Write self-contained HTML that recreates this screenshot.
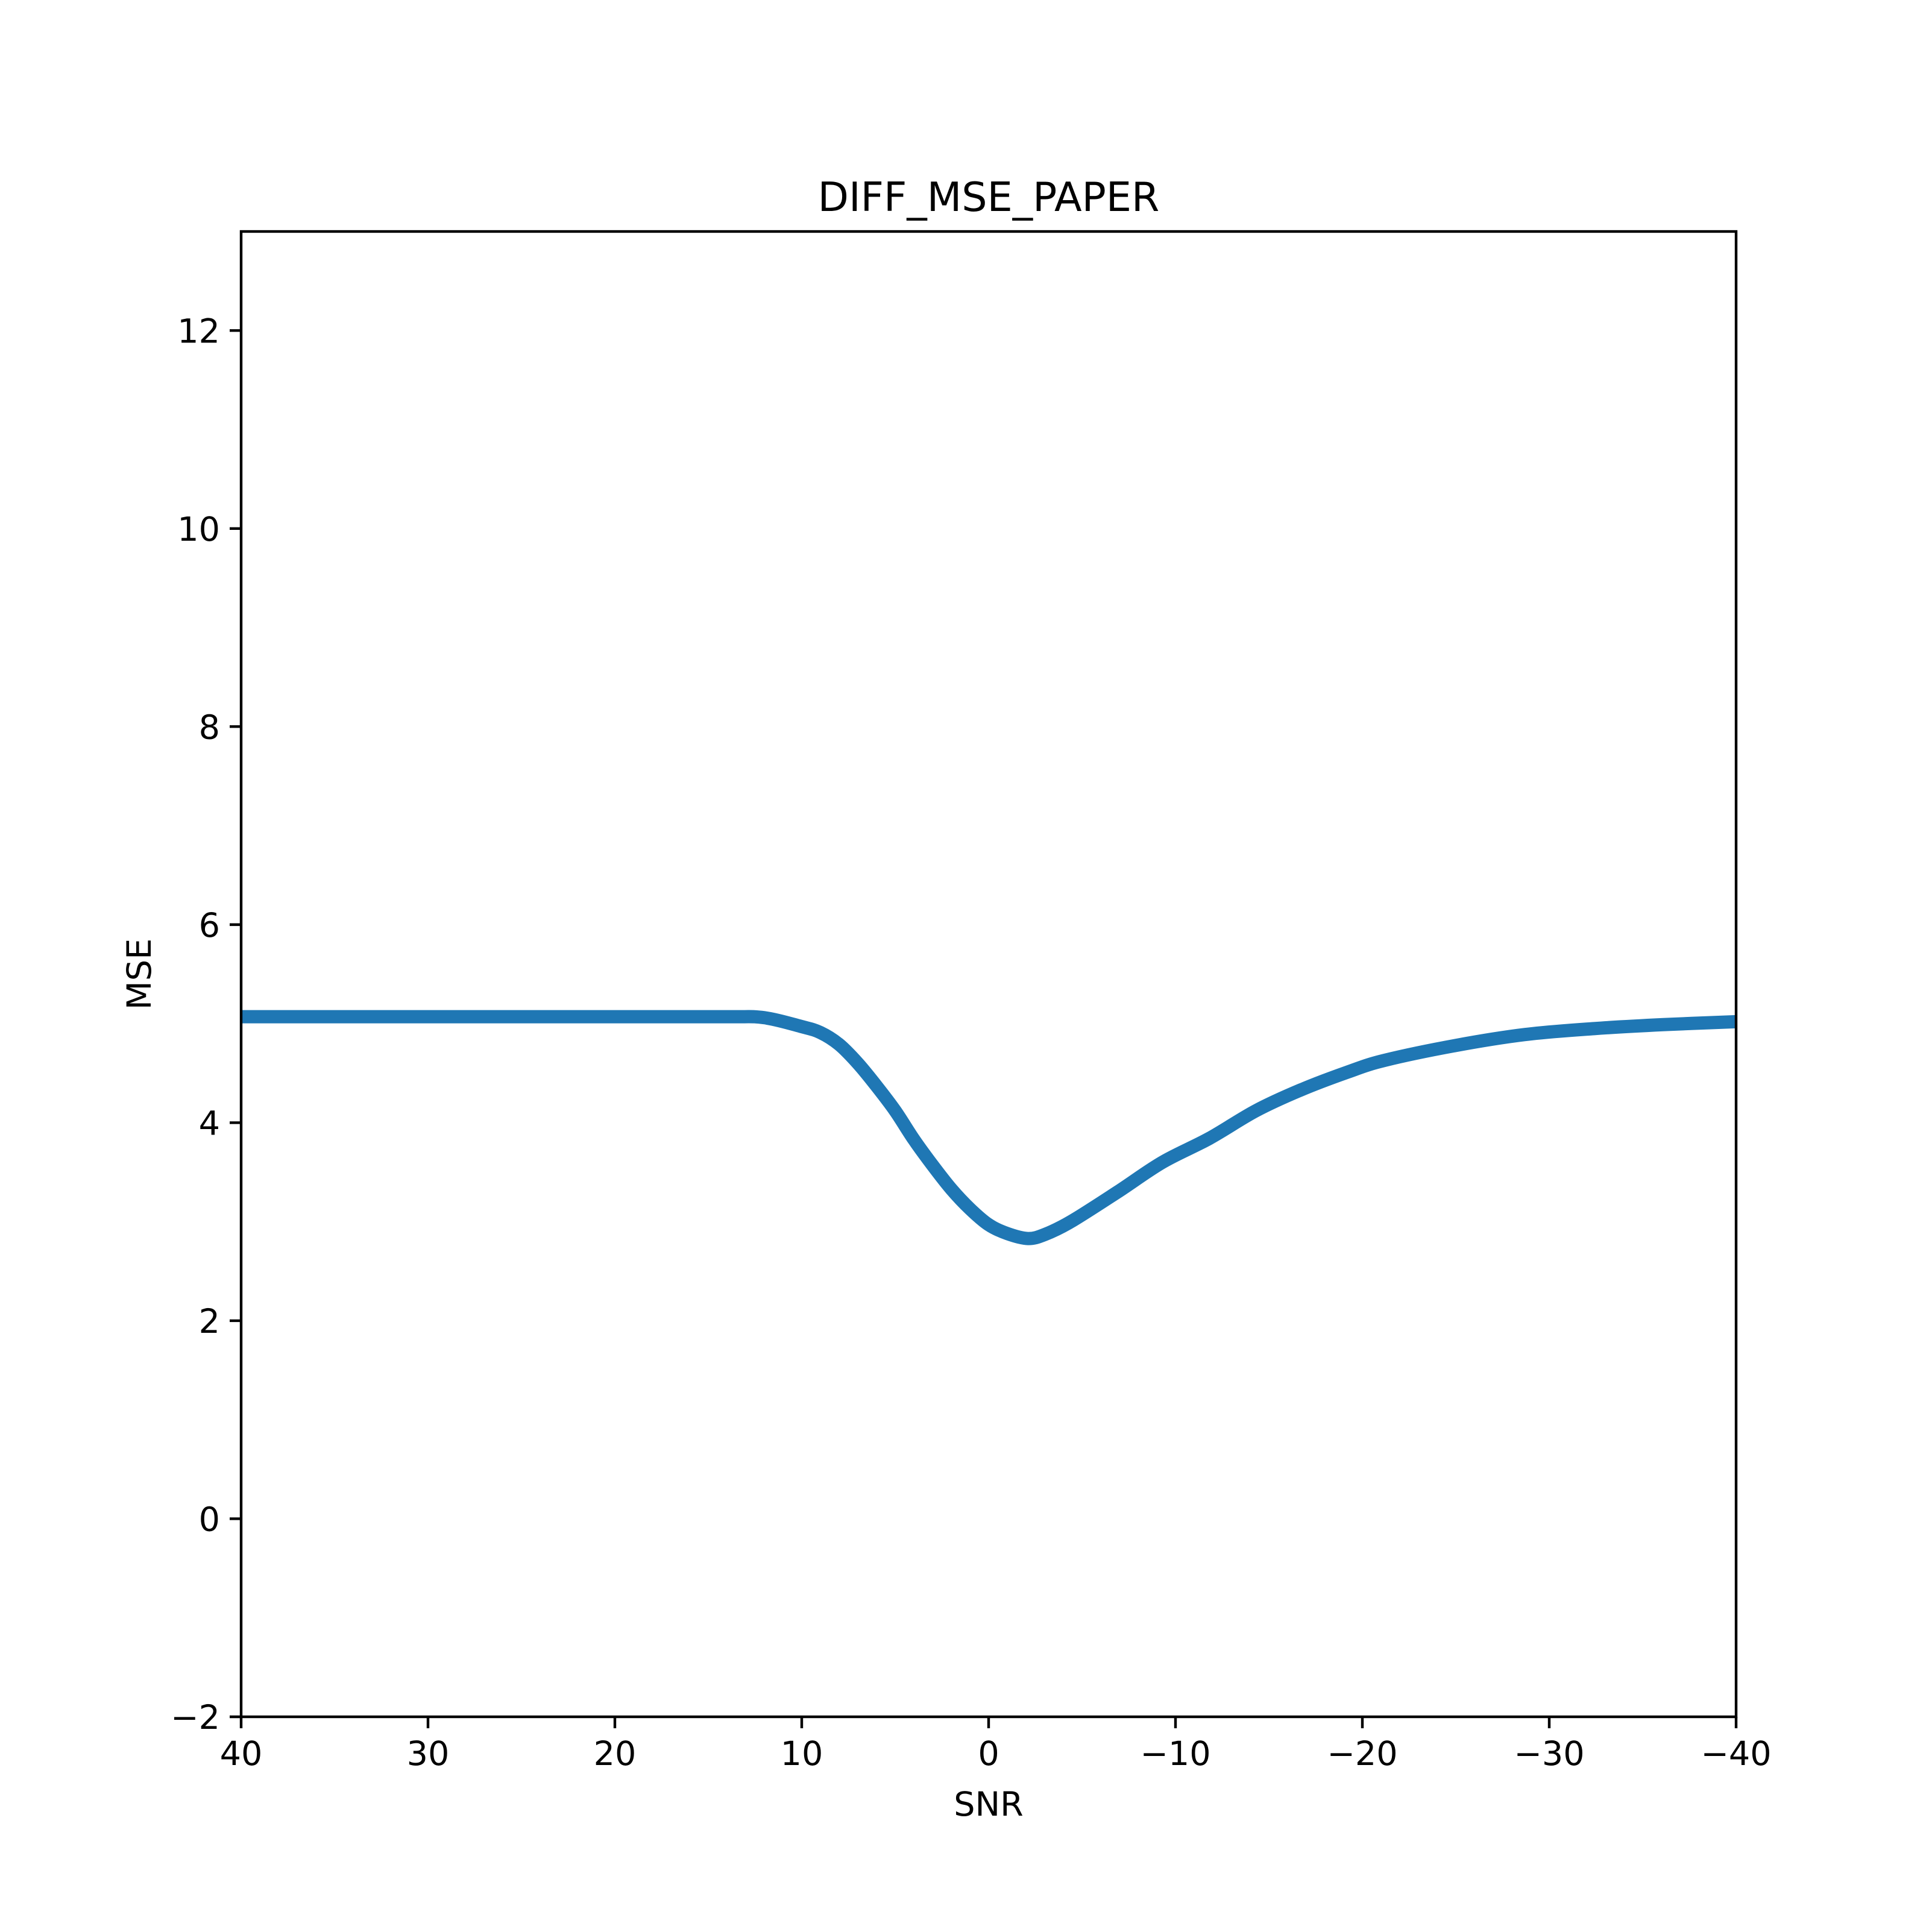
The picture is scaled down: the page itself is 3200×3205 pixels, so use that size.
<!DOCTYPE html>
<html><head><meta charset="utf-8"><style>
html,body{margin:0;padding:0;background:#fff;}
svg text{font-family:"DejaVu Sans","Liberation Sans",sans-serif;fill:#000;}
</style></head>
<body>
<svg id="chart" width="3200" height="3200" viewBox="0 0 3200 3200" xmlns="http://www.w3.org/2000/svg">
<rect width="3200" height="3200" fill="#fff"/>
<g id="plot"></g>
</svg>
<script>
const snrValues = [40,30,20,14,12,10,9,8,7,6,5,4,3,2,1,0,-1,-2.1,-3,-4.4,-6.9,-9.3,-11.8,-14.3,-16.7,-19.2,-21.2,-25,-28.7,-32.4,-36.1,-40];
const mseValues = [5.07,5.07,5.07,5.07,5.06,4.97,4.91,4.79,4.60,4.37,4.12,3.83,3.57,3.33,3.13,2.97,2.88,2.83,2.87,3.0,3.30,3.60,3.84,4.12,4.33,4.51,4.63,4.78,4.89,4.95,4.99,5.02];
const xTicks = [40,30,20,10,0,-10,-20,-30,-40];
const yTicks = [-2,0,2,4,6,8,10,12];
const xMin=40,xMax=-40,yMin=-2,yMax=13;
const L=400,R=2880,T=384,B=2848;
const sx=v=>L+(v-xMin)/(xMax-xMin)*(R-L);
const sy=v=>B-(v-yMin)/(yMax-yMin)*(B-T);
const NS="http://www.w3.org/2000/svg";
const g=document.getElementById('plot');
function mk(tag,attrs,parent){const e=document.createElementNS(NS,tag);for(const k in attrs)e.setAttribute(k,attrs[k]);(parent||g).appendChild(e);return e;}
const pts=snrValues.map((x,i)=>[sx(x),sy(mseValues[i])]);
let d=`M${pts[0][0]},${pts[0][1]}`;
for(let i=0;i<pts.length-1;i++){
 const p0=pts[Math.max(0,i-1)],p1=pts[i],p2=pts[i+1],p3=pts[Math.min(pts.length-1,i+2)];
 const c1=[p1[0]+(p2[0]-p0[0])/6,p1[1]+(p2[1]-p0[1])/6];
 const c2=[p2[0]-(p3[0]-p1[0])/6,p2[1]-(p3[1]-p1[1])/6];
 d+=` C${c1[0]},${c1[1]} ${c2[0]},${c2[1]} ${p2[0]},${p2[1]}`;
}
const clip=mk('clipPath',{id:'cp'});mk('rect',{x:L,y:T,width:R-L,height:B-T},clip);
const line=mk('path',{d:d,fill:'none',stroke:'#1f77b4','stroke-width':22,'stroke-linejoin':'round','clip-path':'url(#cp)'});


const frame=mk('rect',{x:L,y:T,width:R-L,height:B-T,fill:'none',stroke:'#000','stroke-width':4.4});


xTicks.forEach(v=>{
 const x=sx(v);
 const t=mk('line',{x1:x,x2:x,y1:B,y2:B+19,stroke:'#000','stroke-width':4.4});
 
 
 const tx=mk('text',{x:x,y:B+80,'font-size':55.6,'text-anchor':'middle'});
 tx.textContent=v<0?'\u2212'+(-v):String(v);
 
 
});
yTicks.forEach(v=>{
 const y=sy(v);
 const t=mk('line',{x1:L-19,x2:L,y1:y,y2:y,stroke:'#000','stroke-width':4.4});
 
 
 const tx=mk('text',{x:L-35,y:y+20,'font-size':55.6,'text-anchor':'end'});
 tx.textContent=v<0?'\u2212'+(-v):String(v);
 
 
});
const xt=mk('text',{x:(L+R)/2,y:3012,'font-size':55.6,'text-anchor':'middle'});xt.textContent='SNR';


const yt=mk('text',{x:0,y:0,'font-size':55.6,'text-anchor':'middle',transform:`translate(250,${(T+B)/2}) rotate(-90)`});yt.textContent='MSE';


const tt=mk('text',{x:(L+R)/2,y:350,'font-size':66.7,'text-anchor':'middle'});tt.textContent='DIFF_MSE_PAPER';


</script>
</body></html>
